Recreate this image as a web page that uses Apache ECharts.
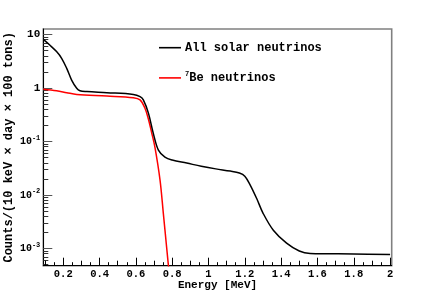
<!DOCTYPE html>
<html><head><meta charset="utf-8">
<script src="https://cdn.jsdelivr.net/npm/echarts@6/dist/echarts.min.js"></script>
<style>html,body{margin:0;padding:0;background:#fff}#c{width:436px;height:295px}</style>
</head><body><div id="c"></div>
<script>
// ---- data ----
const allEnergy = [0.09,0.127,0.163,0.191,0.219,0.246,0.274,0.292,0.33,0.44,0.586,0.623,0.641,0.669,0.696,0.724,0.76,0.80,0.88,0.96,1.04,1.12,1.17,1.20,1.229,1.266,1.30,1.357,1.43,1.50,1.56,1.8,2.0];
const allCounts = [8.1,6.3,4.8,3.6,2.33,1.41,0.99,0.89,0.86,0.82,0.76,0.69,0.60,0.34,0.142,0.069,0.051,0.045,0.0395,0.0345,0.0308,0.028,0.0258,0.0225,0.0155,0.0085,0.0046,0.0022,0.00126,0.00090,0.00081,0.00079,0.00077];
const beEnergy = [0.09,0.163,0.219,0.274,0.44,0.586,0.623,0.65,0.668,0.686,0.705,0.733,0.751,0.769,0.785];
const beCounts = [0.95,0.89,0.82,0.76,0.71,0.66,0.60,0.42,0.27,0.15,0.078,0.019,0.0046,0.00108,0.0003];
const xLabelValues = [0.2,0.4,0.6,0.8,1.0,1.2,1.4,1.6,1.8,2.0];
const xMidTicks = [0.1,0.3,0.5,0.7,0.9,1.1,1.3,1.5,1.7,1.9];
const xSmallTicks = [0.15,0.25,0.35,0.45,0.55,0.65,0.75,0.85,0.95,1.05,1.15,1.25,1.35,1.45,1.55,1.65,1.75,1.85,1.95];
const yDecades = [0.001,0.01,0.1,1,10];
const yMinorTicks = [];
[0.0001,0.001,0.01,0.1,1].forEach(d=>{for(let k=2;k<=9;k++) yMinorTicks.push(+(d*k).toPrecision(3));});
const seriesNames = ['All solar neutrinos','7Be neutrinos'];

const FONT = '"Liberation Mono", "Courier New", monospace';
const XMIN = 0.09, XMAX = 2.009, YMIN = 0.000477, YMAX = 12.7;

function zip(a,b){return a.map((v,i)=>[v,b[i]]);}

const chart = echarts.init(document.getElementById('c'), null, {renderer:'canvas'});
const baseX = {type:'value', min:XMIN, max:XMAX, position:'bottom', splitLine:{show:false},
  axisLine:{show:false, onZero:false}, axisLabel:{show:false}};
const baseY = {type:'log', min:YMIN, max:YMAX, position:'left', splitLine:{show:false},
  axisLine:{show:false, onZero:false}, axisLabel:{show:false}};

chart.setOption({
  animation:false,
  backgroundColor:'#fff',
  grid:{left:43.3, right:44.3, top:29, bottom:29.3, show:true, borderColor:'#808080', borderWidth:1.6,
        containLabel:false, outerBoundsMode:'none'},
  legend:{
    orient:'vertical', left:159, top:41.7, padding:0, itemGap:17.2, itemWidth:22, itemHeight:1.6, icon:'rect',
    data:seriesNames,
    formatter: n => n==='7Be neutrinos' ? '{s|7}{t|Be neutrinos}' : '{t|'+n+'}',
    textStyle:{fontFamily:FONT, fontWeight:'bold', fontSize:12, color:'#000', padding:[0,0,0,-1],
      rich:{t:{fontFamily:FONT, fontWeight:'bold', fontSize:12, lineHeight:14, color:'#000'},
            s:{fontFamily:FONT, fontWeight:'bold', fontSize:7, lineHeight:14, verticalAlign:'top', color:'#000'}}}
  },
  xAxis:[
    Object.assign({}, baseX, {
      name:'Energy [MeV]', nameLocation:'middle', nameGap:14.5, nameMoveOverlap:false,
      nameTextStyle:{fontFamily:FONT, fontWeight:'bold', fontSize:11, color:'#000'},
      axisLine:{show:true, onZero:false, lineStyle:{color:'#000', width:1}},
      axisTick:{show:true, inside:true, length:8, customValues:xLabelValues, lineStyle:{color:'#000', width:1}},
      axisLabel:{show:true, customValues:xLabelValues, margin:3, fontFamily:FONT, fontWeight:'bold', fontSize:10.5, color:'#000',
        formatter: v => (Math.round(v*10)/10).toString()}
    }),
    Object.assign({}, baseX, {axisTick:{show:true, inside:true, length:5, customValues:xMidTicks, lineStyle:{color:'#000', width:1}}}),
    Object.assign({}, baseX, {axisTick:{show:true, inside:true, length:3.5, customValues:xSmallTicks, lineStyle:{color:'#000', width:1}}})
  ],
  yAxis:[
    Object.assign({}, baseY, {
      name:'Counts/(10 keV \u00d7 day \u00d7 100 tons)', nameLocation:'middle', nameGap:28, nameMoveOverlap:false,
      nameTextStyle:{fontFamily:FONT, fontWeight:'bold', fontSize:12, color:'#000'},
      axisLine:{show:true, onZero:false, lineStyle:{color:'#000', width:1}},
      axisTick:{show:true, inside:true, length:9, customValues:yDecades, lineStyle:{color:'#555', width:1}},
      axisLabel:{show:true, customValues:yDecades, margin:3, color:'#000',
        formatter: v => {
          if (v >= 9) return '{n|10}';
          if (v >= 0.9) return '{n|1}';
          const e = Math.round(-Math.log10(v));
          return '{b|10}{s|-' + e + '}';
        },
        rich:{
          n:{fontFamily:FONT, fontWeight:'bold', fontSize:11, lineHeight:14, color:'#000'},
          b:{fontFamily:FONT, fontWeight:'bold', fontSize:10, lineHeight:14, color:'#000'},
          s:{fontFamily:FONT, fontWeight:'bold', fontSize:7, lineHeight:14, verticalAlign:'top', color:'#000'}
        }}
    }),
    Object.assign({}, baseY, {axisTick:{show:true, inside:true, length:5, customValues:yMinorTicks, lineStyle:{color:'#333', width:1}}})
  ],
  series:[
    {name:seriesNames[0], type:'line', xAxisIndex:0, yAxisIndex:0, data:zip(allEnergy, allCounts),
     showSymbol:false, smooth:0.35, clip:true, lineStyle:{color:'#000', width:1.5}, itemStyle:{color:'#000'}},
    {name:seriesNames[1], type:'line', xAxisIndex:0, yAxisIndex:0, data:zip(beEnergy, beCounts),
     showSymbol:false, smooth:0.35, clip:true, lineStyle:{color:'#ff0000', width:1.5}, itemStyle:{color:'#ff0000'}, z:1}
  ]
});
</script>
</body></html>
